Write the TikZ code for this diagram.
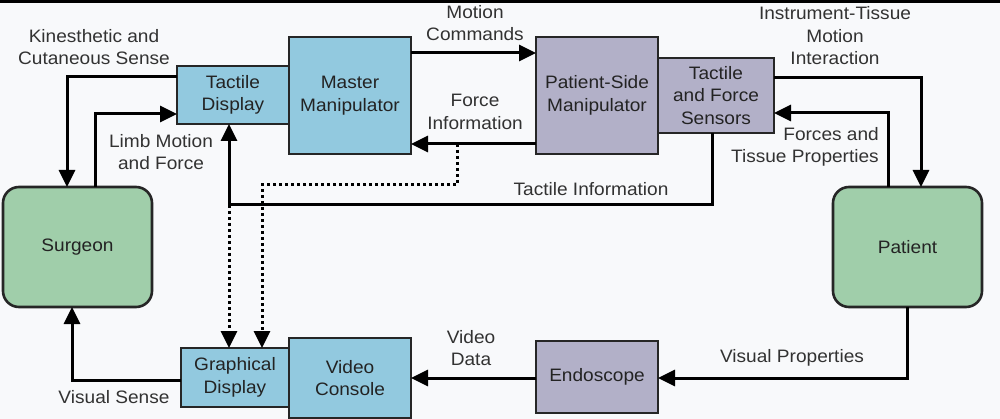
\documentclass[tikz,border=0pt]{standalone}
\usepackage{fontspec}
\setmainfont[FakeStretch=1.06]{Liberation Sans}
\usetikzlibrary{arrows.meta}
\definecolor{bgc}{RGB}{248,249,251}
\definecolor{bluec}{RGB}{146,201,223}
\definecolor{purc}{RGB}{178,176,200}
\definecolor{greenc}{RGB}{160,206,170}
\definecolor{txtc}{RGB}{50,50,50}
\definecolor{boxtxt}{RGB}{35,35,35}
\tikzset{
  box/.style={draw=black!85, line width=2.6pt, outer sep=0pt, inner sep=0pt, align=center, text=boxtxt, font=\fontsize{18}{22.5}\selectfont},
  bluebox/.style={box, fill=bluec},
  purbox/.style={box, fill=purc},
  greenbox/.style={box, fill=greenc, rounded corners=16pt},
  conn/.style={draw=black, line width=3pt, -{Triangle[length=17pt,width=16pt]}},
  dconn/.style={draw=black, line width=3pt, dash pattern=on 3pt off 3pt, -{Triangle[length=17pt,width=16pt]}},
  lbl/.style={align=center, text=txtc, inner sep=0pt, font=\fontsize{18}{22.5}\selectfont}
}
\begin{document}
\begin{tikzpicture}[x=1pt,y=-1pt]
\useasboundingbox (0,0) rectangle (1000,419);
\fill[bgc] (0,0) rectangle (1000,419);
\fill[black] (0,0) rectangle (1000,3);

% boxes
\node[bluebox, minimum width=112pt, minimum height=58pt] (td) at (233,95) {Tactile\\Display};
\node[bluebox, minimum width=122pt, minimum height=117pt] (mm) at (350,95.5) {Master\\Manipulator};
\node[purbox, minimum width=122pt, minimum height=117pt] (psm) at (597,95.5) {Patient-Side\\Manipulator};
\node[purbox, minimum width=116pt, minimum height=75pt] (tfs) at (716,95.5) {Tactile\\and Force\\Sensors};
\node[greenbox, minimum width=149pt, minimum height=120pt] (surg) at (77.5,247) {Surgeon};
\node[greenbox, minimum width=149pt, minimum height=120pt] (pat) at (907.5,247) {Patient};
\node[bluebox, minimum width=108pt, minimum height=59pt] (gd) at (235,377.5) {Graphical\\Display};
\node[bluebox, minimum width=122pt, minimum height=80pt] (vc) at (350,378) {Video\\Console};
\node[purbox, minimum width=122pt, minimum height=72pt] (endo) at (597,377) {Endoscope};

% split points
\coordinate (fsplit) at (457,144);
\coordinate (tsplit) at (229,205);

% connectors
\draw[conn] (td.west |- 0,77) -| (surg.north -| 67,0);
\draw[conn] (surg.north -| 95,0) |- (td.west |- 0,114);
\draw[conn] (mm.east |- 0,53) -- (psm.west |- 0,53);
\draw[conn] (psm.west |- 0,144) -- (mm.east |- 0,144);
\draw[dconn] (fsplit) -- ++(0,41) -| (gd.north -| 262,0);
\draw[conn] (tfs.south -| 712,0) |- (tsplit) -- (td.south -| tsplit);
\draw[dconn] (tsplit) -- (gd.north -| tsplit);
\draw[conn] (tfs.east |- 0,78) -| (pat.north -| 921,0);
\draw[conn] (pat.north -| 888,0) |- (tfs.east |- 0,113);
\draw[conn] (pat.south -| 907,0) |- (endo.east |- 0,378);
\draw[conn] (endo.west |- 0,378) -- (vc.east |- 0,378);
\draw[conn] (gd.west |- 0,380) -| (surg.south -| 72,0);

% labels
\node[lbl] (l1) at (94,47) {Kinesthetic and\\Cutaneous Sense};
\node[lbl] (l2) at (161,152) {Limb Motion\\and Force};
\node[lbl] (l3) at (475,23) {Motion\\Commands};
\node[lbl] (l4) at (475,112) {Force\\Information};
\node[lbl] (l5) at (591,189) {Tactile Information};
\node[lbl] (l6) at (835,36) {Instrument-Tissue\\Motion\\Interaction};
\node[lbl, align=right, anchor=east] (l7) at (879,147) {Forces and\\Tissue Properties};
\node[lbl] (l8) at (792,358) {Visual Properties};
\node[lbl] (l9) at (471,348) {Video\\Data};
\node[lbl] (l10) at (114,397) {Visual Sense};
\end{tikzpicture}
\end{document}
